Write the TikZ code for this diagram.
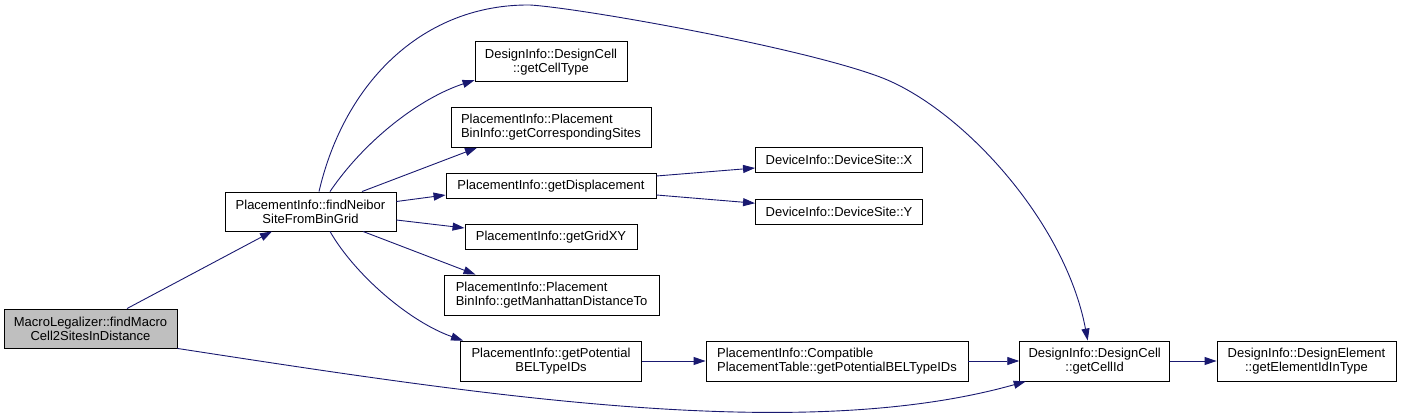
\documentclass[tikz,border=0pt]{standalone}
\usepackage{fontspec}
\setmainfont{Liberation Sans}
\usetikzlibrary{arrows.meta}
\definecolor{edgeblue}{HTML}{191970}
\definecolor{rootgray}{HTML}{BFBFBF}

\begin{document}
\begin{tikzpicture}[x=1pt, y=-1pt,
  fn/.style={draw=black, fill=white, line width=0.9pt, inner sep=0pt,
    font=\fontsize{13}{14}\selectfont, minimum height=40pt},
  call/.style={draw=edgeblue, line width=0.9pt,
    -{Triangle[length=12pt,width=8pt]}}]
  \useasboundingbox (0,0) rectangle (1401,420);

  % --- caller ---
  \node[fn, fill=rootgray, minimum width=173pt, minimum height=39pt, align=center]
    (macro) at (90.5,328.5) {MacroLegalizer::findMacro\\Cell2SitesInDistance};
  \node[fn, minimum width=171pt, minimum height=39pt, align=center]
    (neibor) at (310.5,211.5) {PlacementInfo::findNeibor\\SiteFromBinGrid};

  % --- second column ---
  \node[fn, minimum width=152pt, align=center] (celltype) at (551,61.7)
    {DesignInfo::DesignCell\\::getCellType};
  \node[fn, minimum width=200pt, align=left] (sites) at (551,127.3)
    {PlacementInfo::Placement\\BinInfo::getCorrespondingSites};
  \node[fn, minimum width=210pt, minimum height=25pt] (displ) at (551,186)
    {PlacementInfo::getDisplacement};
  \node[fn, minimum width=172pt, minimum height=25pt] (gridxy) at (551,237)
    {PlacementInfo::getGridXY};
  \node[fn, minimum width=215pt, align=left] (manh) at (551.5,295)
    {PlacementInfo::Placement\\BinInfo::getManhattanDistanceTo};
  \node[fn, minimum width=181pt, align=center] (potential) at (551,361)
    {PlacementInfo::getPotential\\BELTypeIDs};

  % --- third column ---
  \node[fn, minimum width=167pt, minimum height=25pt] (siteX) at (839,160)
    {DeviceInfo::DeviceSite::X};
  \node[fn, minimum width=167pt, minimum height=25pt] (siteY) at (839,211.7)
    {DeviceInfo::DeviceSite::Y};
  \node[fn, minimum width=262pt, align=left] (compat) at (837,361)
    {PlacementInfo::Compatible\\PlacementTable::getPotentialBELTypeIDs};

  % --- right ---
  \node[fn, minimum width=150pt, align=center] (cellid) at (1094.7,361)
    {DesignInfo::DesignCell\\::getCellId};
  \node[fn, minimum width=179pt, align=center] (elemid) at (1306.5,361)
    {DesignInfo::DesignElement\\::getElementIdInType};

  % calls of the root
  \draw[call] ([xshift=36.5pt]macro.north) -- ([xshift=-38.5pt]neibor.south);
  \draw[call] (macro.south east) .. controls (480,395) and (800,445)
    .. ([xshift=-69pt]cellid.south);

  % calls of findNeiborSiteFromBinGrid
  \draw[call] ([xshift=19.5pt]neibor.north) .. controls (365,140) and (420,98)
    .. ([yshift=2pt]celltype.south west);
  \draw[call] ([xshift=51.5pt]neibor.north) -- ([xshift=-74pt]sites.south);
  \draw[call] ([yshift=10pt]neibor.east) -- ([yshift=-9pt]displ.west);
  \draw[call] ([yshift=-8.5pt]neibor.east) -- ([yshift=9pt]gridxy.west);
  \draw[call] ([xshift=52.5pt]neibor.south) -- ([xshift=-76pt]manh.north);
  \draw[call] ([xshift=19.5pt]neibor.south) .. controls (355,275) and (410,322)
    .. ([xshift=3pt]potential.north west);
  \draw[call] ([xshift=8.5pt]neibor.north) .. controls (345,80) and (425,4)
    .. (530,5) .. controls (580,8) and (800,47)
    .. (880,77) .. controls (960,107) and (1065,220)
    .. ([xshift=-7pt]cellid.north);

  % getDisplacement
  \draw[call] ([yshift=10pt]displ.east) -- ([yshift=-8pt]siteX.west);
  \draw[call] ([yshift=-9pt]displ.east) -- ([yshift=8.5pt]siteY.west);

  % chain at the bottom
  \draw[call] (potential.east) -- (compat.west);
  \draw[call] (compat.east) -- (cellid.west);
  \draw[call] (cellid.east) -- (elemid.west);
\end{tikzpicture}
\end{document}
